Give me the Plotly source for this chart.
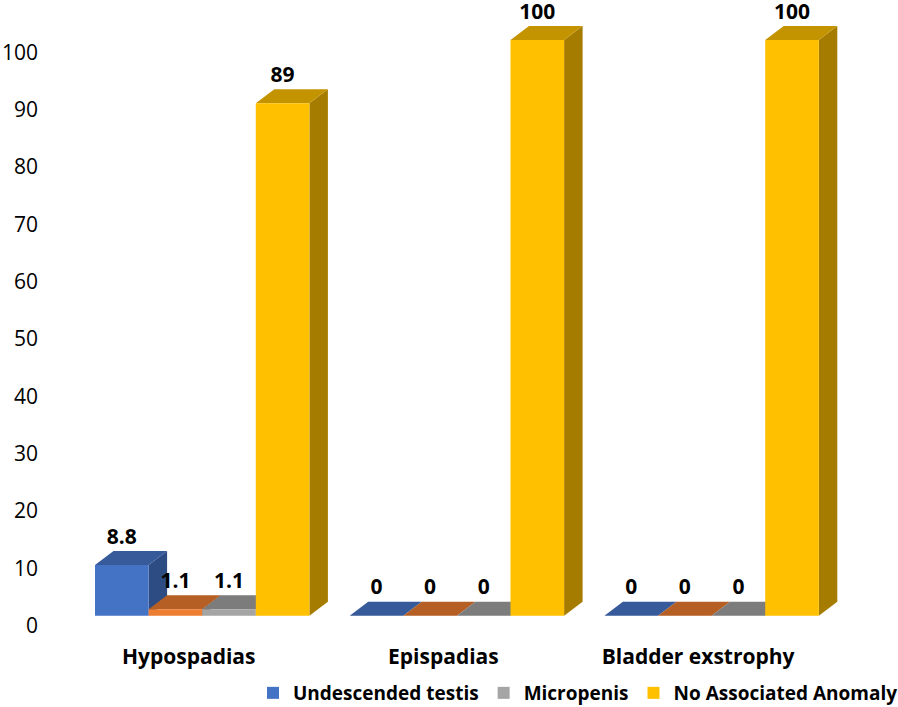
import plotly.graph_objects as go

categories = ["Hypospadias", "Epispadias", "Bladder exstrophy"]
undescended_testis = [8.8, 0, 0]
unnamed_series = [1.1, 0, 0]
micropenis = [1.1, 0, 0]
no_associated_anomaly = [89, 100, 100]
y_ticks = [0, 10, 20, 30, 40, 50, 60, 70, 80, 90, 100]

series = [
    ("Undescended testis", undescended_testis, "#4472C4", "#365A9A", "#2D4C84", True),
    ("Series 2", unnamed_series, "#ED7D31", "#B55F24", "#A0521C", False),
    ("Micropenis", micropenis, "#A5A5A5", "#7C7C7C", "#6C6C6C", True),
    ("No Associated Anomaly", no_associated_anomaly, "#FFC000", "#C49300", "#A67C00", True),
]

W, H = 898, 707
PLOT_H = 674         # plot-area height left once the legend has reserved its band
PITCH = 254.7        # px per category
CENTER0 = 202.2      # px of first category centre
UNIT = 5.757         # px per value unit (bars)
BASE = 615.7         # px of bar base
BAR_W = 53.6 / PITCH
DEPTH_X = 18.5 / PITCH
DEPTH_Y = 14 / UNIT
LABEL_UP = 12.5 / UNIT
FONT = "Open Sans"

x_range = [-CENTER0 / PITCH, (W - CENTER0) / PITCH]
bar_range = [(BASE - PLOT_H) / UNIT, BASE / UNIT]
TICK_UNIT = 5.73
TICK_BASE = 625.5
tick_range = [(TICK_BASE - PLOT_H) / TICK_UNIT, TICK_BASE / TICK_UNIT]

fig = go.Figure()

# depth faces, painted series by series, below all front faces
for i, (name, vals, front, top, side, _) in enumerate(series):
    tx, ty, sx, sy = [], [], [], []
    for c, v in enumerate(vals):
        l = c - 2 * BAR_W + i * BAR_W
        r = l + BAR_W
        tx += [l, r, r + DEPTH_X, l + DEPTH_X, l, None]
        ty += [v, v, v + DEPTH_Y, v + DEPTH_Y, v, None]
        sx += [r, r + DEPTH_X, r + DEPTH_X, r, r, None]
        sy += [0, DEPTH_Y, v + DEPTH_Y, v, 0, None]
    for xs, ys, col in ((sx, sy, side), (tx, ty, top)):
        fig.add_trace(go.Scatter(x=xs, y=ys, mode="lines", fill="toself", fillcolor=col,
                                 line=dict(width=0, color=col), showlegend=False,
                                 hoverinfo="skip", xaxis="x", yaxis="y"))

# front faces
for name, vals, front, top, side, leg in series:
    fig.add_trace(go.Bar(x=list(range(len(categories))), y=vals, name=name,
                         marker=dict(color=front, line=dict(width=0)),
                         showlegend=leg, xaxis="x", yaxis="y2"))

# data labels
for i, (name, vals, *_rest) in enumerate(series):
    fig.add_trace(go.Scatter(
        x=[c - 1.5 * BAR_W + i * BAR_W for c in range(len(vals))],
        y=[v + DEPTH_Y + LABEL_UP for v in vals],
        text=[f"{v:g}" for v in vals], mode="text", textposition="middle center",
        textfont=dict(family=FONT, size=21, color="black", weight=700),
        showlegend=False, hoverinfo="skip", xaxis="x", yaxis="y2", cliponaxis=False))

# carrier for the value-axis labels
fig.add_trace(go.Scatter(x=[0], y=[0], mode="markers", marker=dict(opacity=0),
                         showlegend=False, hoverinfo="skip", xaxis="x", yaxis="y3"))

LABEL_SHIFT = -0.053
fig.update_layout(
    width=W, height=H, autosize=False,
    margin=dict(l=0, r=0, t=0, b=0, pad=0),
    paper_bgcolor="white", plot_bgcolor="white",
    barmode="group", bargap=1 - 4 * BAR_W, bargroupgap=0,
    font=dict(family=FONT, color="black"),
    xaxis=dict(range=x_range, domain=[0, 1], anchor="free", position=(PLOT_H - 642) / PLOT_H,
               tickmode="array", tickvals=[c + LABEL_SHIFT for c in range(len(categories))],
               ticktext=categories, ticks="", showgrid=False, zeroline=False, showline=False,
               tickfont=dict(family=FONT, size=21, color="black", weight=700)),
    yaxis=dict(range=bar_range, domain=[0, 1], visible=False, fixedrange=True),
    yaxis2=dict(range=bar_range, domain=[0, 1], overlaying="y", visible=False),
    yaxis3=dict(range=tick_range, domain=[0, 1], overlaying="y", anchor="free",
                position=38 / W, side="left", tickmode="array", tickvals=y_ticks,
                ticks="", showgrid=False, zeroline=False, showline=False,
                tickfont=dict(family=FONT, size=21, color="black")),
    legend=dict(orientation="h", xref="container", yref="container",
                x=253 / W, xanchor="left", y=(H - 693) / H, yanchor="middle",
                font=dict(family=FONT, size=19, color="black", weight=700),
                bgcolor="rgba(0,0,0,0)", borderwidth=0),
)

fig.write_html("out.html", config=dict(displayModeBar=False),
               post_script="document.body.style.margin='0';")
